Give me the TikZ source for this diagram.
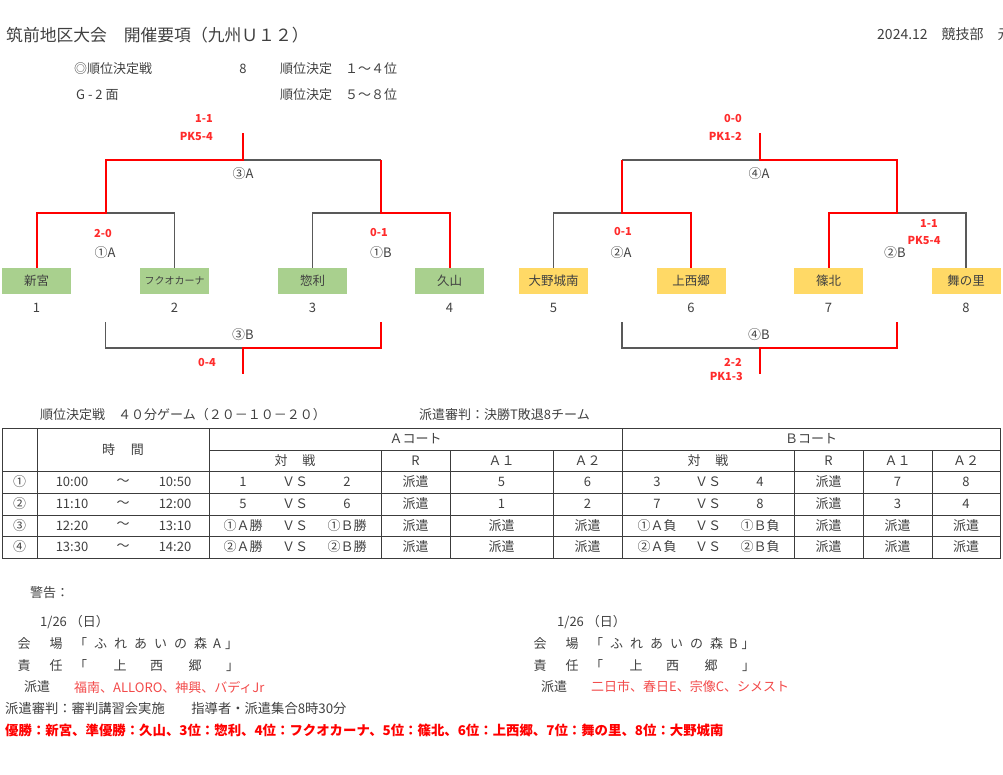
\documentclass[tikz,border=0pt]{standalone}
\usepackage{fontspec}
\setmainfont{Noto Sans CJK JP}
\definecolor{txt}{HTML}{404040}
\definecolor{lgray}{HTML}{595959}
\definecolor{scr}{HTML}{FF2B2B}
\definecolor{grn}{HTML}{A9D08E}
\definecolor{ylw}{HTML}{FFD966}
\definecolor{pinkred}{HTML}{F24A4A}
\definecolor{tbl}{HTML}{3C3C3C}
\newcommand\hgap[1]{\hspace{#1pt}}
\begin{document}
\begin{tikzpicture}[x=1pt,y=-1pt,
  lbl/.style={inner sep=0pt,text=txt,font=\fontsize{13}{15}\selectfont},
  score/.style={inner sep=0pt,text=scr,font=\bfseries\fontsize{11}{13}\selectfont},
  team/.style={minimum width=69pt,minimum height=26pt,inner sep=0pt,text=txt,font=\fontsize{12.5}{14}\selectfont},
  win/.style={draw=red,line width=2pt},
  lose/.style={draw=lgray,line width=1.2pt},
  tline/.style={draw=tbl,line width=1pt}]
\useasboundingbox (0,0) rectangle (1003,774);
\clip (0,0) rectangle (1003,774);

% header
\node[lbl,anchor=west,font=\fontsize{16.8}{18}\selectfont] (title) at (6,35) {筑前地区大会　開催要項（九州Ｕ１２）};
\node[lbl,anchor=west,font=\fontsize{14}{16}\selectfont] (date) at (877,34) {2024.12　競技部　元};
\node[lbl,anchor=west] (r1a) at (74,69) {◎順位決定戦};
\node[lbl] (r1b) at (243,69) {8};
\node[lbl,anchor=west] (r1c) at (280,69) {順位決定　１～４位};
\node[lbl,anchor=west] (r2a) at (76,95) {G - 2 面};
\node[lbl,anchor=west] (r2c) at (280,95) {順位決定　５～８位};

% teams
\node[team,fill=grn] (t1) at (36.5,281) {新宮};
\node[team,fill=grn,font=\fontsize{10}{12}\selectfont] (t2) at (174.5,281) {フクオカーナ};
\node[team,fill=grn] (t3) at (312.5,281) {惣利};
\node[team,fill=grn] (t4) at (449.5,281) {久山};
\node[team,fill=ylw] (t5) at (553.5,281) {大野城南};
\node[team,fill=ylw] (t6) at (691,281) {上西郷};
\node[team,fill=ylw] (t7) at (828.5,281) {篠北};
\node[team,fill=ylw] (t8) at (966,281) {舞の里};
\foreach \i/\x in {1/36.5,2/174.5,3/312.5,4/449.5,5/553.5,6/691,7/828.5,8/966}
  \node[lbl] (n\i) at (\x,308) {\i};

% junctions
\coordinate (c1A) at (105.5,213);
\coordinate (c1B) at (381,213);
\coordinate (c3Al) at (105.5,160);
\coordinate (c3Ar) at (381,160);
\coordinate (c3A) at (243,160);
\coordinate (f3A) at (243,133);
\coordinate (b3Bl) at (105.5,322);
\coordinate (b3Br) at (381,322);
\coordinate (c3B) at (243,348);
\coordinate (f3B) at (243,374);
\coordinate (c2A) at (622,213);
\coordinate (c2B) at (897,213);
\coordinate (c4Al) at (622,160);
\coordinate (c4Ar) at (897,160);
\coordinate (c4A) at (760,160);
\coordinate (f4A) at (760,133);
\coordinate (b4Bl) at (622,322);
\coordinate (b4Br) at (897,322);
\coordinate (c4B) at (760,348);
\coordinate (f4B) at (760,374);

% losing lines
\draw[lose] (t2.north) |- (c1A);
\draw[lose] (t3.north) |- (c1B);
\draw[lose] (c3A) -- (c3Ar);
\draw[lose] (b3Bl) |- (c3B);
\draw[lose] (t5.north) |- (c2A);
\draw[lose] (t8.north) |- (c2B);
\draw[lose] (c4Al) -- (c4A);
\draw[lose] (b4Bl) |- (c4B);
% winning lines
\draw[win] (t1.north) |- (c1A) -- (c3Al) -- (c3A) -- (f3A);
\draw[win] (t4.north) |- (c1B) -- (c3Ar);
\draw[win] (b3Br) |- (c3B) -- (f3B);
\draw[win] (t6.north) |- (c2A) -- (c4Al);
\draw[win] (t7.north) |- (c2B) -- (c4Ar) -- (c4A) -- (f4A);
\draw[win] (b4Br) |- (c4B) -- (f4B);

% match labels
\node[lbl] (m3A) at (243,174) {③A};
\node[lbl] (m1A) at (105,253) {①A};
\node[lbl] (m1B) at (381,253) {①B};
\node[lbl] (m3B) at (243,335) {③B};
\node[lbl] (m4A) at (759,174) {④A};
\node[lbl] (m2A) at (621,253) {②A};
\node[lbl] (m2B) at (895,253) {②B};
\node[lbl] (m4B) at (759,335) {④B};
% scores
\node[score,anchor=east] (s3Aa) at (213,119) {1-1};
\node[score,anchor=east] (s3Ab) at (213,136) {PK5-4};
\node[score] (s1A) at (103,234) {2-0};
\node[score] (s1B) at (379,233) {0-1};
\node[score] (s3B) at (207,362) {0-4};
\node[score,anchor=east] (s4Aa) at (742,119) {0-0};
\node[score,anchor=east] (s4Ab) at (742,136) {PK1-2};
\node[score] (s2A) at (623,232) {0-1};
\node[score] (s2Ba) at (929,224) {1-1};
\node[score] (s2Bb) at (924,240) {PK5-4};
\node[score,anchor=east] (s4Ba) at (742,362) {2-2};
\node[score,anchor=east] (s4Bb) at (743,376) {PK1-3};

% table
\node[lbl,anchor=west] (tt1) at (40,415) {順位決定戦　４０分ゲーム（２０－１０－２０）};
\node[lbl,anchor=west] (tt2) at (419,415) {派遣審判：決勝T敗退8チーム};
\draw[tline] (2,428) rectangle (1000,558);
\foreach \x in {37,209,622} \draw[tline] (\x,428) -- (\x,558);
\draw[tline] (209,450) -- (1000,450);
\foreach \y in {471,493,515,536} \draw[tline] (2,\y) -- (1000,\y);
\foreach \x in {381,450,553,794,863,932} \draw[tline] (\x,450) -- (\x,558);

\node[lbl] (hT) at (123,449.5) {時\hgap{16}間};
\node[lbl] (hA) at (415.5,439) {Ａコート};
\node[lbl] (hB) at (811,439) {Ｂコート};
\node[lbl] (hA1) at (295,460.5) {対\hgap{15}戦};
\node[lbl] (hA2) at (415.5,460.5) {R};
\node[lbl] (hA3) at (501.5,460.5) {Ａ１};
\node[lbl] (hA4) at (587.5,460.5) {Ａ２};
\node[lbl] (hB1) at (708,460.5) {対\hgap{15}戦};
\node[lbl] (hB2) at (828.5,460.5) {R};
\node[lbl] (hB3) at (897.5,460.5) {Ａ１};
\node[lbl] (hB4) at (966,460.5) {Ａ２};

\foreach \r/\y/\no/\ta/\tb/\aa/\ab/\aone/\atwo/\ba/\bb/\bone/\btwo in {
  1/482/①/10:00/10:50/1/2/5/6/3/4/7/8,
  2/504/②/11:10/12:00/5/6/1/2/7/8/3/4,
  3/525.5/③/12:20/13:10/①Ａ勝/①Ｂ勝/派遣/派遣/①Ａ負/①Ｂ負/派遣/派遣,
  4/547/④/13:30/14:20/②Ａ勝/②Ｂ勝/派遣/派遣/②Ａ負/②Ｂ負/派遣/派遣}{
  \node[lbl] (no\r) at (19.5,\y) {\no};
  \node[lbl] (ta\r) at (72,\y) {\ta};
  \node[lbl] (tw\r) at (123,\y) {～};
  \node[lbl] (tb\r) at (175,\y) {\tb};
  \node[lbl] (aa\r) at (243,\y) {\aa};
  \node[lbl] (av\r) at (295,\y) {ＶＳ};
  \node[lbl] (ab\r) at (347,\y) {\ab};
  \node[lbl] (ar\r) at (415.5,\y) {派遣};
  \node[lbl] (a1\r) at (501.5,\y) {\aone};
  \node[lbl] (a2\r) at (587.5,\y) {\atwo};
  \node[lbl] (ba\r) at (657,\y) {\ba};
  \node[lbl] (bv\r) at (708,\y) {ＶＳ};
  \node[lbl] (bb\r) at (760,\y) {\bb};
  \node[lbl] (br\r) at (828.5,\y) {派遣};
  \node[lbl] (b1\r) at (897.5,\y) {\bone};
  \node[lbl] (b2\r) at (966,\y) {\btwo};
}

% bottom notes
\node[lbl,anchor=west] (warn) at (30,593) {警告：};
\node[lbl,anchor=west] (dL) at (40,622) {1/26 （日）};
\node[lbl,anchor=west] (dR) at (557,622) {1/26 （日）};
\node[lbl,anchor=west] (vL) at (17.5,644) {会\hgap{19}場\hgap{11.5}「\hgap{7}ふ\hgap{7}れ\hgap{7}あ\hgap{7}い\hgap{7}の\hgap{7}森\hgap{6}A\hgap{4}」};
\node[lbl,anchor=west] (vR) at (533.5,644) {会\hgap{19}場\hgap{11.5}「\hgap{7}ふ\hgap{7}れ\hgap{7}あ\hgap{7}い\hgap{7}の\hgap{7}森\hgap{6}B\hgap{4}」};
\node[lbl,anchor=west] (pL) at (17.5,666) {責\hgap{19}任\hgap{11.5}「\hgap{26.5}上\hgap{23.5}西\hgap{25.5}郷\hgap{24.5}」};
\node[lbl,anchor=west] (pR) at (533.5,666) {責\hgap{19}任\hgap{11.5}「\hgap{26.5}上\hgap{23.5}西\hgap{25.5}郷\hgap{24.5}」};
\node[lbl,anchor=west] (hkL) at (24,687) {派遣};
\node[lbl,anchor=west,text=pinkred] (hkLt) at (74,687) {福南、ALLORO、神興、バディJr};
\node[lbl,anchor=west] (hkR) at (541,687) {派遣};
\node[lbl,anchor=west,text=pinkred] (hkRt) at (591,687) {二日市、春日E、宗像C、シメスト};
\node[lbl,anchor=west,font=\fontsize{13.3}{15}\selectfont] (ref) at (5,708) {派遣審判：審判講習会実施　　指導者・派遣集合8時30分};
\node[lbl,anchor=west,text=red,font=\bfseries\fontsize{13.4}{16}\selectfont] (res) at (5,730) {優勝：新宮、準優勝：久山、3位：惣利、4位：フクオカーナ、5位：篠北、6位：上西郷、7位：舞の里、8位：大野城南};
\end{tikzpicture}
\end{document}
